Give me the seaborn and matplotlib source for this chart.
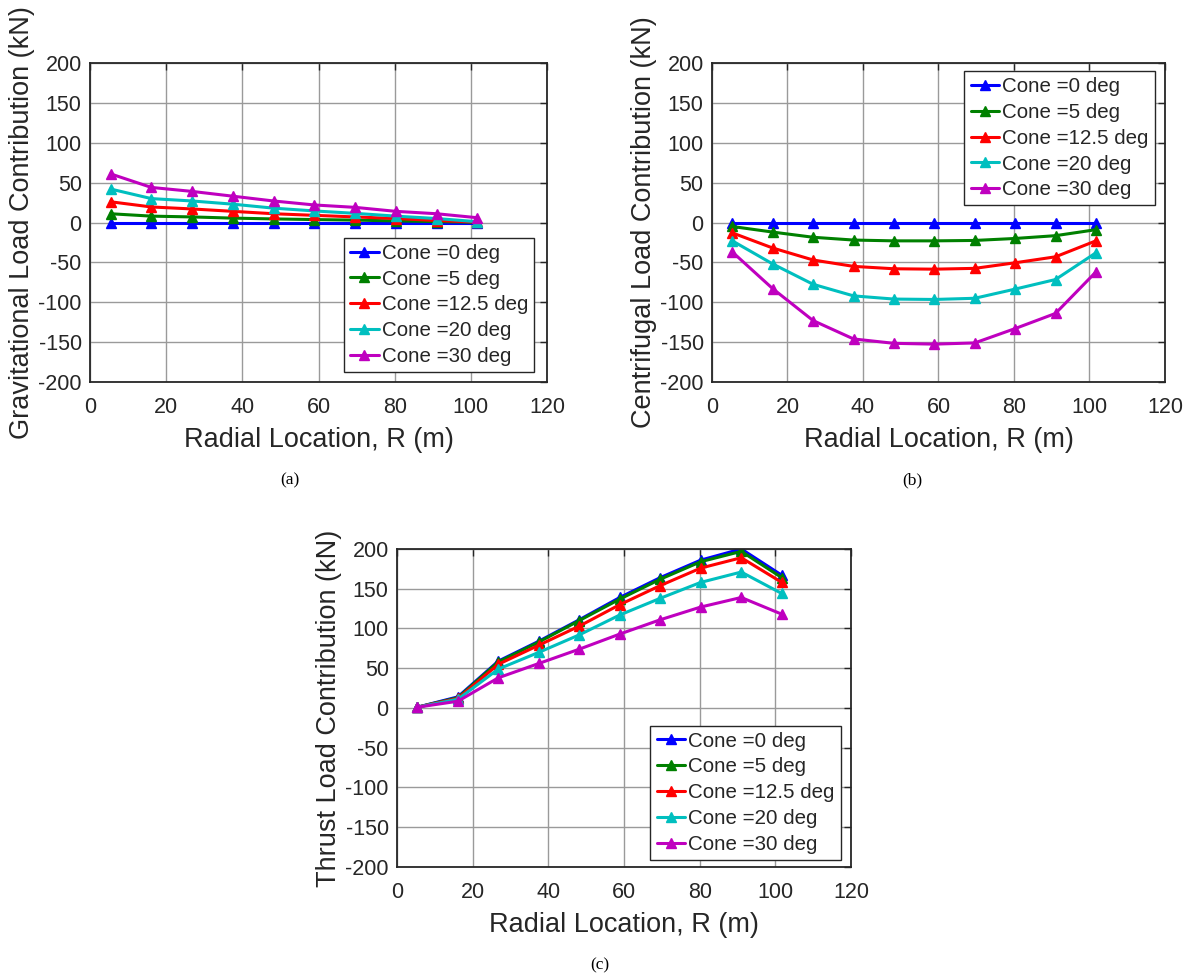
import numpy as np
import pandas as pd
import matplotlib
matplotlib.use("Agg")
import matplotlib.pyplot as plt
import seaborn as sns

# ---------------- data ----------------
radial_m = [5.4, 16.1, 26.8, 37.5, 48.2, 58.9, 69.6, 80.3, 91.0, 101.7]
cone_labels = ["Cone =0 deg", "Cone =5 deg", "Cone =12.5 deg", "Cone =20 deg", "Cone =30 deg"]

grav_cone0 = [0, 0, 0, 0, 0, 0, 0, 0, 0, 0]
grav_cone5 = [11, 8, 7, 5.5, 4.5, 3.7, 3, 2, 1.2, 0.3]
grav_cone12 = [26, 19.5, 17, 14, 11, 9, 7, 5, 2.5, 0.5]
grav_cone20 = [42, 30, 27, 23, 18, 14.5, 11.5, 8, 5, 1]
grav_cone30 = [61, 44, 39, 33, 27, 22, 19, 14, 11, 6]

cent_cone0 = [0, 0, 0, 0, 0, 0, 0, 0, 0, 0]
cent_cone5 = [-5, -12, -18.5, -22, -23, -23, -22.5, -20, -16.5, -9]
cent_cone12 = [-13, -32, -47, -55, -58, -58.5, -57.5, -50.5, -43, -23]
cent_cone20 = [-23, -52, -77.5, -92, -96, -96.5, -95, -83.5, -71.5, -38]
cent_cone30 = [-37, -83, -123, -146, -151.5, -152.5, -151, -133, -114, -62]

thr_cone0 = [1, 14, 59, 84, 111, 139, 164, 186, 200, 167]
thr_cone5 = [1, 13, 58, 83, 110, 137, 162, 184, 197, 164]
thr_cone12 = [1, 12, 55, 79, 103, 130, 154, 176, 189, 158]
thr_cone20 = [1, 11, 49, 70, 92, 117, 138, 158, 171, 144]
thr_cone30 = [1, 8.5, 38, 56, 74, 93, 111, 127, 139, 118]

x_ticks = [0, 20, 40, 60, 80, 100, 120]
y_ticks = [-200, -150, -100, -50, 0, 50, 100, 150, 200]

colors = [(0, 0, 1), (0, 0.5, 0), (1, 0, 0), (0, 0.75, 0.75), (0.75, 0, 0.75)]
dark = "#262626"

def long_df(series):
    rows = []
    for lab, vals in zip(cone_labels, series):
        for x, y in zip(radial_m, vals):
            rows.append({"R": x, "Load": y, "Cone": lab})
    return pd.DataFrame(rows)

sns.set_theme(style="white")
plt.rcParams["font.family"] = ["Liberation Sans", "DejaVu Sans"]
plt.rcParams["axes.unicode_minus"] = False

fig = plt.figure(figsize=(11.89, 9.77), dpi=100)

panels = [
    ([0.0757, 0.609, 0.3844, 0.3265], [grav_cone0, grav_cone5, grav_cone12, grav_cone20, grav_cone30],
     "Gravitational Load Contribution (kN)", ("lower right", (0.972, 0.031))),
    ([0.5988, 0.609, 0.381, 0.3265], [cent_cone0, cent_cone5, cent_cone12, cent_cone20, cent_cone30],
     "Centrifugal Load Contribution (kN)", ("upper right", (0.978, 0.975))),
    ([0.3339, 0.1126, 0.3818, 0.3255], [thr_cone0, thr_cone5, thr_cone12, thr_cone20, thr_cone30],
     "Thrust Load Contribution (kN)", ("lower right", (0.978, 0.022))),
]

for rect, series, ylab, (loc, anchor) in panels:
    ax = fig.add_axes(rect)
    df = long_df(series)
    sns.lineplot(data=df, x="R", y="Load", hue="Cone", hue_order=cone_labels,
                 palette=colors, marker="^", markersize=7.5, linewidth=2.2,
                 errorbar=None, sort=False, legend=False, ax=ax)
    for ln, c in zip(ax.lines, colors):
        ln.set_markeredgecolor(c)
        ln.set_markerfacecolor(c)
        ln.set_markeredgewidth(1.0)
    ax.set_xlim(0, 120)
    ax.set_ylim(-200, 200)
    ax.set_xticks(x_ticks)
    ax.set_yticks(y_ticks)
    ax.grid(True, color="#9a9a9a", linewidth=1.0)
    ax.set_axisbelow(True)
    for s in ax.spines.values():
        s.set_visible(True)
        s.set_color(dark)
        s.set_linewidth(1.3)
    ax.tick_params(direction="in", length=5, width=1.0, top=True, right=True,
                   labelsize=15.5, colors=dark, labelcolor=dark)
    ax.tick_params(axis="x", pad=11)
    ax.tick_params(axis="y", pad=6)
    ax.set_xlabel("Radial Location, R (m)", fontsize=19.5, color=dark, labelpad=6)
    ax.set_ylabel(ylab, fontsize=19.5, color=dark, labelpad=2)
    leg = ax.legend(handles=ax.lines[:5], labels=cone_labels, loc=loc, bbox_to_anchor=anchor,
                    fontsize=14.8, frameon=True, fancybox=False, handlelength=1.4,
                    handletextpad=0.15, labelspacing=0.33, borderpad=0.3, borderaxespad=0)
    leg.get_frame().set_edgecolor(dark)
    leg.get_frame().set_linewidth(1.0)
    leg.get_frame().set_alpha(1)

fig.text(290 / 1189, 1 - 480 / 977, "(a)", ha="center", va="center",
         fontsize=12.5, family=["Liberation Serif", "DejaVu Serif"], color="black")
fig.text(912 / 1189, 1 - 480 / 977, "(b)", ha="center", va="center",
         fontsize=12.5, family=["Liberation Serif", "DejaVu Serif"], color="black")
fig.text(600 / 1189, 1 - 965 / 977, "(c)", ha="center", va="center",
         fontsize=12.5, family=["Liberation Serif", "DejaVu Serif"], color="black")

fig.savefig("out.png", dpi=100, facecolor="white")
